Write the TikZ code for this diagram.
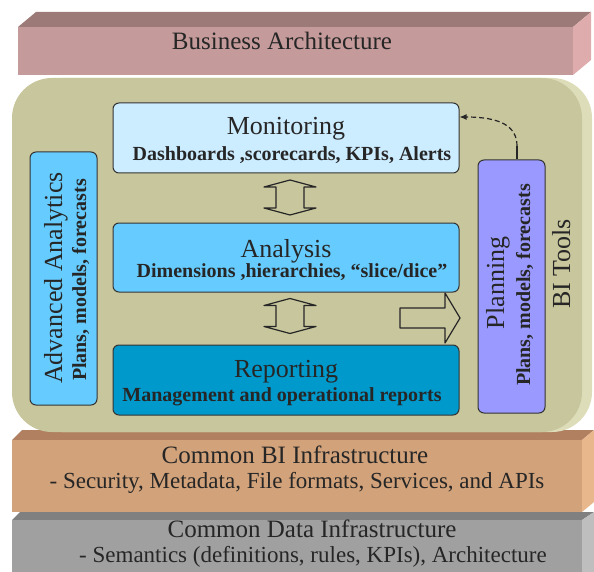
\documentclass[tikz,border=0pt]{standalone}
\usepackage{fontspec}
\setmainfont{Liberation Serif}
\usetikzlibrary{arrows.meta}
%colours
\definecolor{bizFront}{RGB}{196,154,154}
\definecolor{bizTop}{RGB}{156,122,120}
\definecolor{bizSide}{RGB}{222,172,172}
\definecolor{olive}{RGB}{200,198,156}
\definecolor{oliveSide}{RGB}{222,221,186}
\definecolor{monFill}{RGB}{204,236,255}
\definecolor{anaFill}{RGB}{102,204,255}
\definecolor{repFill}{RGB}{0,153,204}
\definecolor{planFill}{RGB}{153,153,255}
\definecolor{biFront}{RGB}{210,162,122}
\definecolor{biTop}{RGB}{176,128,96}
\definecolor{biSide}{RGB}{232,184,140}
\definecolor{datFront}{RGB}{160,160,160}
\definecolor{datTop}{RGB}{128,128,128}
\definecolor{datSide}{RGB}{190,190,190}
\tikzset{
  tool/.style={draw=black!80,line width=1pt,rounded corners=6pt,minimum width=346pt,minimum height=70pt,inner sep=0pt},
  side/.style={draw=black!80,line width=1pt,rounded corners=6pt,minimum width=67pt,minimum height=253pt,inner sep=0pt},
  big/.style={font=\fontsize{26}{28}\selectfont,text=black!85,inner sep=0pt},
  small/.style={font=\bfseries\fontsize{20}{22}\selectfont,text=black!85,inner sep=0pt},
  slab/.style={font=\fontsize{25}{27}\selectfont,text=black!85,inner sep=0pt},
  slabsub/.style={font=\fontsize{23}{25}\selectfont,text=black!85,inner sep=0pt},
  blockarrow/.style={draw=black!85,line width=1.2pt,line join=round},
}
\begin{document}
\begin{tikzpicture}[x=1pt,y=-1pt]
\useasboundingbox (0,0) rectangle (594,572);
%business architecture slab
\fill[bizTop] (18,27) -- (36,12) -- (591,12) -- (573,27) -- cycle;
\fill[bizSide] (573,27) -- (591,12) -- (591,60) -- (573,75) -- cycle;
\fill[bizFront] (18,27) rectangle (573,75);
\node[slab,anchor=base] (biz) at (282,50) {Business Architecture};
%----------------------
%common BI infrastructure slab
\fill[biTop] (12,440) -- (22,430) -- (594,430) -- (582,440) -- cycle;
\fill[biSide] (582,440) -- (594,430) -- (594,502) -- (582,512) -- cycle;
\fill[biFront] (12,440) rectangle (582,512);
%common data infrastructure slab
\fill[datTop] (12,520) -- (20,512) -- (594,512) -- (582,520) -- cycle;
\fill[datSide] (582,520) -- (594,512) -- (594,572) -- (582,572) -- cycle;
\fill[datFront] (12,520) rectangle (582,572);
%----------------------
%BI tools panel
\fill[oliveSide,rounded corners=40pt] (22,78) rectangle (592,432);
\fill[olive,rounded corners=40pt] (12,78) rectangle (582,432);
%========================
%monitoring, analysis, reporting
\node[tool,fill=monFill] (mon) at (286,138) {};
\node[big,anchor=base] (monT) at (286,135) {Monitoring};
\node[small,anchor=base] (monS) at (292,161) {Dashboards ,scorecards, KPIs, Alerts};
\node[tool,fill=anaFill,minimum height=69pt] (ana) at (286,257.5) {};
\node[big,anchor=base] (anaT) at (286,257) {Analysis};
\node[small,anchor=base] (anaS) at (292,277) {Dimensions ,hierarchies, “slice/dice”};
\node[tool,fill=repFill] (rep) at (286,380) {};
\node[big,anchor=base] (repT) at (286,377) {Reporting};
\node[small,anchor=base] (repS) at (282,401) {Management and operational reports};
%--------------------
%side columns
\node[side,fill=anaFill] (adv) at (63.5,278.5) {};
\node[big,rotate=90,anchor=base] (advT) at (62,278) {Advanced Analytics};
\node[small,rotate=90,anchor=base] (advS) at (86,280) {Plans, models, forecasts};
\node[side,fill=planFill] (plan) at (511.5,286.5) {};
\node[big,rotate=90,anchor=base] (planT) at (504,283) {Planning};
\node[small,rotate=90,anchor=base] (planS) at (530,285) {Plans, models, forecasts};
\node[big,rotate=90,anchor=base] (tools) at (570,264) {BI Tools};
%--------------------
%up/down block arrows between the layers
\foreach \n/\cy in {ud1/197.5, ud2/316}{
  \coordinate (\n) at (290,\cy);
  \draw[blockarrow] (\n) ++(0,-17.5) -- ++(-26,7) -- ++(12,0) -- ++(0,21) -- ++(-12,0) -- ++(26,7)
    -- ++(26,-7) -- ++(-12,0) -- ++(0,-21) -- ++(12,0) -- cycle;
}
%right block arrow
\coordinate (ra) at (400,318);
\draw[blockarrow] (ra) ++(0,-10) -- ++(45,0) -- ++(0,-15) -- ++(15,25) -- ++(-15,25) -- ++(0,-15) -- ++(-45,0) -- cycle;
%planning feeds monitoring
\coordinate (bend) at (517,146);
\draw[line width=1.2pt,black!85] ([xshift=5.5pt]plan.north) -- (bend);
\draw[line width=1.2pt,black!85,dash pattern=on 5pt off 3pt,-{Latex[length=7pt,width=6pt]}] (bend) .. controls (517,126) and (500,117) .. ([yshift=21pt]mon.east);
%==========================
%infrastructure text
\node[slab,anchor=base] (bi1) at (295,463) {Common BI Infrastructure};
\node[slabsub,anchor=base] (bi2) at (297,488) {- Security, Metadata, File formats, Services, and APIs};
\node[slab,anchor=base] (dat1) at (312,537) {Common Data Infrastructure};
\node[slabsub,anchor=base] (dat2) at (313,562) {- Semantics (definitions, rules, KPIs), Architecture};
\end{tikzpicture}
\end{document}
